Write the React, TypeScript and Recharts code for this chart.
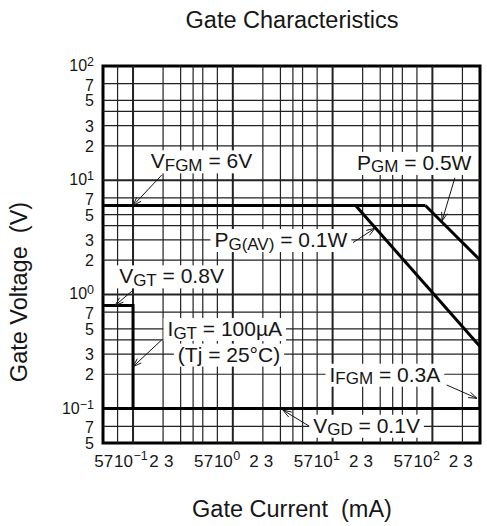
import React from 'react';
import { LineChart, Line, XAxis, YAxis, ReferenceLine, ReferenceArea, ReferenceDot } from 'recharts';

const FONT = "'Liberation Sans', Arial, Helvetica, sans-serif";
const INK = '#161616';

// ---- axis ticks (I in mA, V in V) ----
const xTicks = [0.05, 0.07, 0.1, 0.2, 0.3, 0.5, 0.7, 1, 2, 3, 5, 7, 10, 20, 30, 50, 70, 100, 200, 300];
const yTicks = [0.05, 0.07, 0.1, 0.2, 0.3, 0.5, 0.7, 1, 2, 3, 5, 7, 10, 20, 30, 50, 70, 100];
const xGrid = [0.07, 0.1, 0.2, 0.3, 0.4, 0.5, 0.7, 1, 2, 3, 4, 5, 7, 10, 20, 30, 40, 50, 70, 100, 200];
const yGrid = [0.07, 0.1, 0.2, 0.3, 0.4, 0.5, 0.7, 1, 2, 3, 4, 5, 7, 10, 20, 30, 40, 50, 70];

// ---- characteristic boundaries ----
const vfgmLine = [{ i: 0.05, v: 6 }, { i: 85, v: 6 }];
const pgavLine = [{ i: 17, v: 6 }, { i: 300, v: 0.35 }];
const pgmLine = [{ i: 85, v: 6 }, { i: 300, v: 2 }];
const vgtLine = [{ i: 0.05, v: 0.8 }, { i: 0.1, v: 0.8 }, { i: 0.1, v: 0.1 }];
const vgdLine = [{ i: 0.05, v: 0.1 }, { i: 300, v: 0.1 }];
const ifgmLine = [{ i: 300, v: 2 }, { i: 300, v: 0.1 }];

// ---- annotations ----
const labelTexts = [
  { id: 'vfgm', main: 'V', sub: 'FGM', rest: ' = 6V', i: 0.485, v: 12.7 },
  { id: 'pgm', main: 'P', sub: 'GM', rest: ' = 0.5W', i: 65.8, v: 12.3 },
  { id: 'pgav', main: 'P', sub: 'G(AV)', rest: ' = 0.1W', i: 3.03, v: 2.6 },
  { id: 'vgt', main: 'V', sub: 'GT', rest: ' = 0.8V', i: 0.243, v: 1.25 },
  { id: 'igt', main: 'I', sub: 'GT', rest: ' = 100\u00b5A', i: 0.831, v: 0.432 },
  { id: 'tj', main: '(Tj = 25\u00b0C)', sub: '', rest: '', i: 0.916, v: 0.258 },
  { id: 'ifgm', main: 'I', sub: 'FGM', rest: ' = 0.3A', i: 33.4, v: 0.172 },
  { id: 'vgd', main: 'V', sub: 'GD', rest: ' = 0.1V', i: 21.9, v: 0.0615 },
];
const arrows = [
  { id: 'vfgm', from: { i: 0.194, v: 11.1 }, to: { i: 0.1, v: 6 } },
  { id: 'pgm', from: { i: 168, v: 10.5 }, to: { i: 125, v: 4.4 } },
  { id: 'pgav', from: { i: 16, v: 2.84 }, to: { i: 26.6, v: 3.8 } },
  { id: 'vgt', from: { i: 0.1, v: 1.09 }, to: { i: 0.066, v: 0.8 } },
  { id: 'igt', from: { i: 0.194, v: 0.4 }, to: { i: 0.1, v: 0.233 } },
  { id: 'ifgm', from: { i: 139, v: 0.161 }, to: { i: 280, v: 0.123 } },
  { id: 'vgd', from: { i: 5.94, v: 0.0695 }, to: { i: 3.18, v: 0.097 } },
];

const measureCache: Record<string, number> = {};
function textWidth(s: string, size: number): number {
  if (!s) return 0;
  const key = size + '|' + s;
  if (measureCache[key] != null) return measureCache[key];
  let w = s.length * size * 0.55;
  try {
    const c = document.createElement('canvas').getContext('2d');
    if (c) {
      c.font = `${size}px 'Liberation Sans'`;
      w = c.measureText(s).width;
    }
  } catch (e) {
    /* ignore */
  }
  measureCache[key] = w;
  return w;
}

function Anno(props: any) {
  const { cx, cy, main, sub, rest } = props;
  if (cx == null || cy == null) return null;
  const MS = 21;
  const SS = 17;
  const w = textWidth(main, MS) + textWidth(sub, SS) + textWidth(rest, MS);
  const pad = 4;
  return (
    <g>
      <rect x={cx - w / 2 - pad} y={cy - 18} width={w + 2 * pad} height={23} fill="#fff" />
      <text x={cx} y={cy} textAnchor="middle" fontFamily={FONT} fontSize={MS} fill={INK} style={{ whiteSpace: 'pre' }}>
        {main}
        {sub ? (
          <tspan fontSize={SS} dy={2.5}>
            {sub}
          </tspan>
        ) : null}
        {rest ? <tspan dy={sub ? -2.5 : 0}>{rest}</tspan> : null}
      </text>
    </g>
  );
}

function Arrow(props: any) {
  const { x1, y1, x2, y2 } = props;
  if ([x1, y1, x2, y2].some((n) => n == null || isNaN(n))) return null;
  const ang = Math.atan2(y2 - y1, x2 - x1);
  const L = 9;
  const A = 0.33;
  const ax = x2 - L * Math.cos(ang - A);
  const ay = y2 - L * Math.sin(ang - A);
  const bx = x2 - L * Math.cos(ang + A);
  const by = y2 - L * Math.sin(ang + A);
  return (
    <g stroke={INK} strokeWidth={1} fill="none">
      <line x1={x1} y1={y1} x2={x2} y2={y2} />
      <polyline points={`${ax},${ay} ${x2},${y2} ${bx},${by}`} />
    </g>
  );
}

function splitVal(v: number) {
  const e = Math.floor(Math.log10(v) + 1e-9);
  const m = Math.round(v / Math.pow(10, e));
  return { e, m };
}
function expStr(e: number) {
  return e < 0 ? '\u2212' + Math.abs(e) : String(e);
}

const XTICK_FS = 17;
const YTICK_FS = 16;
const SUP_FS = 12.5;
const xDigitShift: Record<number, number> = { 2: -9, 3: -12, 5: -4, 7: -9 };
const yDigitShift: Record<number, number> = { 1: -1, 7: 1 };

function XTick(props: any) {
  const { x, y, payload } = props;
  const { e, m } = splitVal(payload.value);
  const base = y + 23.5;
  if (m === 1) {
    return (
      <g fontFamily={FONT} fill={INK}>
        <text x={x} y={base} textAnchor="end" fontSize={XTICK_FS}>
          10
        </text>
        <text x={x + 0.5} y={base - 7} textAnchor="start" fontSize={SUP_FS}>
          {expStr(e)}
        </text>
      </g>
    );
  }
  return (
    <text x={x + (xDigitShift[m] || 0)} y={base} textAnchor="middle" fontFamily={FONT} fontSize={XTICK_FS} fill={INK}>
      {m}
    </text>
  );
}

function YTick(props: any) {
  const { x, y, payload } = props;
  const { e, m } = splitVal(payload.value);
  const tx = x - 9;
  const base = y + 6 + (yDigitShift[m] || 0);
  if (m === 1) {
    return (
      <text x={tx} y={base} textAnchor="end" fontFamily={FONT} fontSize={YTICK_FS} fill={INK}>
        10
        <tspan fontSize={SUP_FS} dy={-5}>
          {expStr(e)}
        </tspan>
      </text>
    );
  }
  return (
    <text x={tx} y={base} textAnchor="end" fontFamily={FONT} fontSize={YTICK_FS} fill={INK}>
      {m}
    </text>
  );
}

function isDecade(v: number) {
  return splitVal(v).m === 1;
}

const curves = [vfgmLine, pgavLine, pgmLine, vgtLine, vgdLine, ifgmLine];

export default function App() {
  return (
    <div style={{ position: 'absolute', left: 0, top: 0, width: 487, height: 526, background: '#fff' }}>
      <LineChart width={487} height={526} margin={{ top: 66, right: 7, bottom: 43, left: 43 }}>
        <XAxis
          dataKey="i"
          type="number"
          scale="log"
          domain={[0.05, 300]}
          allowDataOverflow
          ticks={xTicks}
          interval={0}
          height={40}
          axisLine={false}
          tickLine={false}
          tickSize={0}
          tickMargin={0}
          tick={(p: any) => <XTick {...p} />}
        />
        <YAxis
          dataKey="v"
          type="number"
          scale="log"
          domain={[0.05, 100]}
          allowDataOverflow
          ticks={yTicks}
          interval={0}
          width={60}
          axisLine={false}
          tickLine={false}
          tickSize={0}
          tickMargin={0}
          tick={(p: any) => <YTick {...p} />}
        />
        {xGrid.map((v) => (
          <ReferenceLine key={'gx' + v} x={v} stroke="#222" strokeWidth={isDecade(v) ? 2 : 1.2} />
        ))}
        {yGrid.map((v) => (
          <ReferenceLine key={'gy' + v} y={v} stroke="#222" strokeWidth={isDecade(v) ? 2 : 1.2} />
        ))}
        {labelTexts.map((l) => (
          <ReferenceDot
            key={'lab' + l.id}
            x={l.i}
            y={l.v}
            r={0}
            shape={(p: any) => <Anno cx={p.cx} cy={p.cy} main={l.main} sub={l.sub} rest={l.rest} />}
          />
        ))}
        {curves.map((d, k) => (
          <Line
            key={'c' + k}
            data={d}
            dataKey="v"
            type="linear"
            stroke="#000"
            strokeWidth={3}
            dot={false}
            activeDot={false}
            isAnimationActive={false}
            strokeLinejoin="miter"
          />
        ))}
        <ReferenceArea x1={0.05} x2={300} y1={0.05} y2={100} fill="none" fillOpacity={0} stroke="#000" strokeWidth={3} />
        {arrows.map((a) => (
          <ReferenceLine
            key={'ar' + a.id}
            segment={[
              { x: a.from.i, y: a.from.v },
              { x: a.to.i, y: a.to.v },
            ]}
            shape={(p: any) => <Arrow {...p} />}
          />
        ))}
        <text x={292} y={28} textAnchor="middle" fontFamily={FONT} fontSize={23.5} fill={INK}>
          Gate Characteristics
        </text>
        <text x={292} y={517} textAnchor="middle" fontFamily={FONT} fontSize={23.5} fill={INK} style={{ whiteSpace: 'pre' }}>
          Gate Current  (mA)
        </text>
        <text
          transform="translate(27,292) rotate(-90)"
          textAnchor="middle"
          fontFamily={FONT}
          fontSize={23.5}
          fill={INK}
          style={{ whiteSpace: 'pre' }}
        >
          Gate Voltage  (V)
        </text>
      </LineChart>
    </div>
  );
}
